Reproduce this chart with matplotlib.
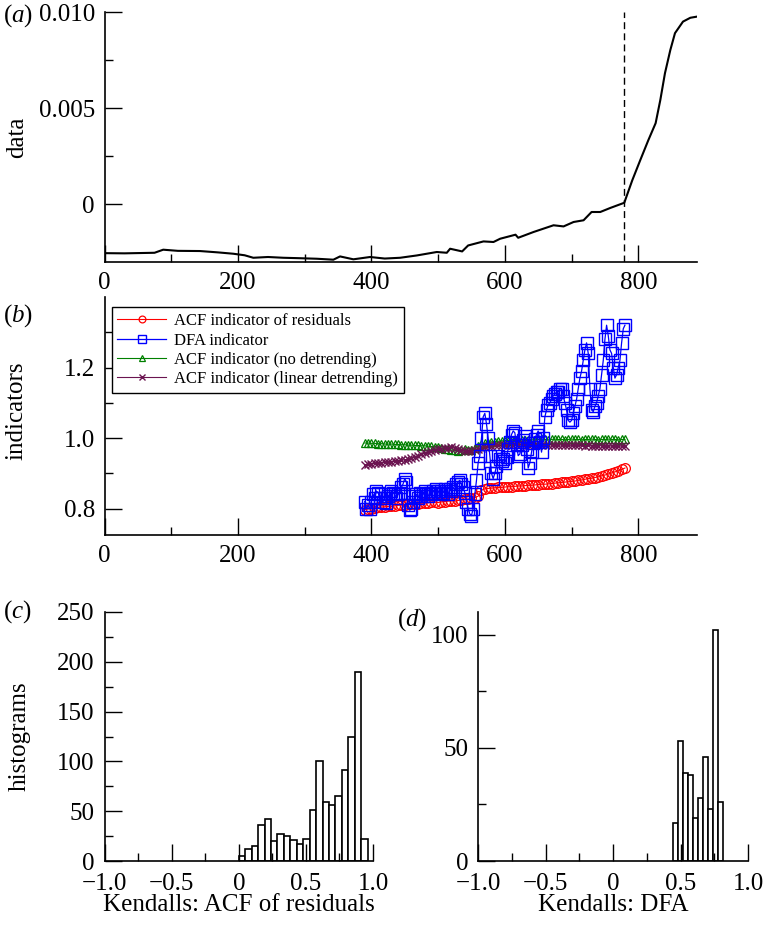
import numpy as np
import matplotlib
matplotlib.use("Agg")
import matplotlib.pyplot as plt
from matplotlib.ticker import FixedLocator

plt.rcParams['font.family'] = 'Liberation Serif'
plt.rcParams['mathtext.fontset'] = 'custom'
plt.rcParams['mathtext.rm'] = 'Liberation Serif'
plt.rcParams['mathtext.it'] = 'Liberation Serif:italic'

# (a) the time series
data_x = [0, 30, 60, 75, 88, 110, 143, 170, 193, 210, 223, 245, 268, 290, 318,
          343, 353, 373, 398, 420, 443, 468, 498, 513, 518, 536, 545, 568, 583,
          593, 616, 620, 643, 673, 688, 703, 718, 730, 743, 758, 779, 791, 803,
          815, 826, 833, 840, 848, 855, 867, 878, 888]
data_y = [-2.54, -2.55, -2.53, -2.52, -2.36, -2.42, -2.43, -2.50, -2.57, -2.65,
          -2.78, -2.74, -2.78, -2.80, -2.83, -2.88, -2.71, -2.86, -2.74, -2.82,
          -2.78, -2.66, -2.48, -2.52, -2.31, -2.45, -2.14, -1.93, -1.96, -1.79,
          -1.58, -1.74, -1.44, -1.09, -1.15, -0.92, -0.83, -0.40, -0.40, -0.19,
          0.08, 1.25, 2.30, 3.33, 4.22, 5.42, 6.82, 8.02, 8.90, 9.50, 9.70, 9.76]
data_y = [v * 1e-3 for v in data_y]
transition = 779

# (b) indicators, one value every 5 time steps from 390 to 780
ind_x = np.arange(390, 781, 5)
acf_res = [0.797, 0.799, 0.800, 0.801, 0.803, 0.804, 0.805, 0.806, 0.806, 0.808,
           0.809, 0.810, 0.811, 0.812, 0.813, 0.812, 0.814, 0.815, 0.816, 0.816,
           0.818, 0.818, 0.817, 0.819, 0.820, 0.821, 0.822, 0.821, 0.823, 0.824,
           0.826, 0.827, 0.829, 0.831, 0.835,
           0.852, 0.856, 0.857, 0.858, 0.859, 0.860, 0.860, 0.861, 0.862, 0.862,
           0.863, 0.864, 0.864, 0.865, 0.866, 0.866, 0.867, 0.868, 0.869, 0.869,
           0.870, 0.871, 0.872, 0.873, 0.874, 0.875, 0.876, 0.877, 0.878, 0.880,
           0.881, 0.883, 0.885, 0.886, 0.888, 0.890, 0.893, 0.895, 0.898, 0.901,
           0.904, 0.907, 0.911, 0.915]
acf_raw = [0.986, 0.986, 0.985, 0.985, 0.984, 0.984, 0.983, 0.983, 0.983, 0.982,
           0.982, 0.981, 0.981, 0.980, 0.980, 0.979, 0.979, 0.978, 0.978, 0.977,
           0.976, 0.975, 0.974, 0.972, 0.970, 0.968, 0.966, 0.965, 0.964, 0.966,
           0.968, 0.965, 0.967, 0.972, 0.978,
           0.982, 0.985, 0.987, 0.989, 0.990, 0.991, 0.992, 0.993, 0.993, 0.994,
           0.994, 0.994, 0.995, 0.995, 0.995, 0.995, 0.995, 0.996, 0.997, 0.996,
           0.995, 0.996, 0.997, 0.996, 0.996, 0.995, 0.996, 0.997, 0.996, 0.996,
           0.995, 0.996, 0.996, 0.997, 0.996, 0.995, 0.996, 0.996, 0.997, 0.996,
           0.996, 0.995, 0.996, 0.996]
acf_lin = [0.923, 0.925, 0.927, 0.928, 0.929, 0.930, 0.931, 0.932, 0.933, 0.934,
           0.936, 0.937, 0.938, 0.940, 0.943, 0.946, 0.950, 0.954, 0.957, 0.960,
           0.963, 0.966, 0.968, 0.970, 0.972, 0.973, 0.974, 0.972, 0.969, 0.966,
           0.963, 0.962, 0.964, 0.966, 0.968,
           0.971, 0.974, 0.976, 0.978, 0.979, 0.980, 0.980, 0.981, 0.981, 0.981,
           0.982, 0.982, 0.982, 0.981, 0.981, 0.982, 0.981, 0.981, 0.981, 0.980,
           0.981, 0.980, 0.980, 0.980, 0.980, 0.979, 0.980, 0.979, 0.979, 0.979,
           0.979, 0.978, 0.979, 0.978, 0.978, 0.978, 0.978, 0.977, 0.978, 0.977,
           0.977, 0.977, 0.977, 0.977]

# DFA indicator, one value every 2.5 time steps from 390 to 780
dfa_x = np.arange(390, 780.1, 2.5)
dfa = [0.82, 0.80, 0.81, 0.80, 0.82, 0.84, 0.83, 0.85, 0.845, 0.83, 0.84, 0.82,
       0.83, 0.815, 0.835, 0.84, 0.85, 0.845, 0.84, 0.83, 0.84, 0.845, 0.86, 0.87,
       0.885, 0.875, 0.81, 0.795, 0.80, 0.82, 0.835, 0.84, 0.83, 0.845, 0.835, 0.84,
       0.85, 0.84, 0.835, 0.845, 0.84, 0.85, 0.845, 0.855, 0.85, 0.84, 0.85, 0.845,
       0.855, 0.85, 0.84, 0.855, 0.85, 0.86, 0.855, 0.87, 0.875, 0.88, 0.87, 0.86,
       0.845, 0.82, 0.80, 0.785, 0.78, 0.80, 0.84, 0.88, 0.93, 0.95, 1.00, 1.06,
       1.07, 1.04, 1.00, 0.95, 0.90, 0.885, 0.90, 0.92, 0.95, 0.94, 0.935, 0.94,
       0.93, 0.945, 0.97, 0.99, 1.01, 1.02, 1.015, 0.98, 0.95, 0.955, 0.98, 0.995,
       1.005, 0.97, 0.915, 0.93, 0.96, 0.985, 0.997, 1.01, 1.02, 0.99, 0.96, 1.00,
       1.06, 1.08, 1.095, 1.10, 1.11, 1.12, 1.125, 1.13, 1.13, 1.14, 1.14, 1.12,
       1.10, 1.08, 1.05, 1.045, 1.05, 1.07, 1.09, 1.11, 1.14, 1.17, 1.19, 1.22,
       1.25, 1.27, 1.24, 1.14, 1.08, 1.075, 1.09, 1.10, 1.12, 1.14, 1.18, 1.22,
       1.28, 1.32, 1.29, 1.25, 1.24, 1.20, 1.17, 1.18, 1.20, 1.22, 1.27, 1.31,
       1.32]

# (c), (d) histograms of Kendall tau
hist_c_edges = np.linspace(0.0, 0.96, 21)
hist_c_counts = [5, 12, 15, 36, 42, 20, 27, 25, 21, 17, 22, 51, 100, 59, 56, 65,
                 91, 124, 190, 22]
hist_d_edges = np.linspace(0.444, 0.815, 11)
hist_d_counts = [17, 53, 39, 38, 19, 28, 46, 23, 102, 26]

W, H = 764, 926
fig = plt.figure(figsize=(W / 100, H / 100), dpi=100)

def box(l, t, r, b):
    return [l / W, 1 - b / H, (r - l) / W, (b - t) / H]

ax_a = fig.add_axes(box(104.5, 12, 697, 262))
ax_b = fig.add_axes(box(104.5, 297, 697, 535))
ax_c = fig.add_axes(box(104.5, 612, 373, 861))
ax_d = fig.add_axes(box(478, 612, 748, 861))

FS = 18

def style(ax):
    ax.spines['top'].set_visible(False)
    ax.spines['right'].set_visible(False)
    for s in ('left', 'bottom'):
        ax.spines[s].set_linewidth(1.2)
    ax.tick_params(which='both', direction='in', top=False, right=False,
                   labelsize=FS, pad=7, width=1.0)
    ax.tick_params(which='major', length=12)
    ax.tick_params(which='minor', length=6)

# (a)
ax_a.plot(data_x, data_y, color='black', lw=1.5)
ax_a.axvline(transition, color='black', lw=1.0, ls=(0, (5, 3)))
ax_a.set_xlim(0, 888)
ax_a.set_ylim(-0.0030, 0.0100)
ax_a.set_xticks([0, 200, 400, 600, 800])
ax_a.xaxis.set_minor_locator(FixedLocator([100, 300, 500, 700]))
ax_a.set_yticks([0, 0.005, 0.010])
ax_a.set_yticklabels(['0', '0.005', '0.010'])
ax_a.yaxis.set_minor_locator(FixedLocator([0.0025, 0.0075]))
style(ax_a)
ax_a.set_ylabel('data', fontsize=FS, va='center')
ax_a.yaxis.set_label_coords(-0.148, 0.5)

# (b)
ax_b.plot(ind_x, acf_res, color='red', lw=0.8, marker='o', ms=7,
          mfc='none', mew=0.9, label='ACF indicator of residuals', zorder=3)
ax_b.plot(dfa_x, dfa, color='blue', lw=0.9, marker='s', ms=8,
          mfc='none', mew=1.0, label='DFA indicator', zorder=4)
ax_b.plot(ind_x, acf_raw, color='green', lw=0.8, marker='^', ms=6,
          mfc='none', mew=0.9, label='ACF indicator (no detrending)', zorder=2)
ax_b.plot(ind_x, acf_lin, color='#6b1450', lw=0.8, marker='x', ms=6,
          mew=1.0, label='ACF indicator (linear detrending)', zorder=2)
ax_b.set_xlim(0, 888)
ax_b.set_ylim(0.725, 1.40)
ax_b.set_xticks([0, 200, 400, 600, 800])
ax_b.xaxis.set_minor_locator(FixedLocator([100, 300, 500, 700]))
ax_b.set_yticks([0.8, 1.0, 1.2])
ax_b.set_yticklabels(['0.8', '1.0', '1.2'])
ax_b.yaxis.set_minor_locator(FixedLocator([0.9, 1.1, 1.3]))
style(ax_b)
ax_b.set_ylabel('indicators', fontsize=FS, va='center')
ax_b.yaxis.set_label_coords(-0.148, 0.52)
leg = ax_b.legend(loc='upper left', bbox_to_anchor=(0.012, 0.956), fontsize=12,
                  handlelength=2.9, labelspacing=0.2, borderpad=0.35,
                  borderaxespad=0, handletextpad=0.5, fancybox=False,
                  edgecolor='black', framealpha=1, markerscale=0.7)
leg.get_frame().set_linewidth(1.0)

# (c)
ax_c.bar(hist_c_edges[:-1], hist_c_counts, width=np.diff(hist_c_edges), align='edge',
         color='white', edgecolor='black', lw=1.2)
ax_c.set_xlim(-1.0, 1.0)
ax_c.set_ylim(0, 250)
ax_c.set_xticks([-1.0, -0.5, 0, 0.5, 1.0])
ax_c.set_xticklabels(['\u22121.0', '\u22120.5', '0', '0.5', '1.0'])
ax_c.xaxis.set_minor_locator(FixedLocator([-0.75, -0.25, 0.25, 0.75]))
ax_c.set_yticks([0, 50, 100, 150, 200, 250])
ax_c.yaxis.set_minor_locator(FixedLocator([25, 75, 125, 175, 225]))
style(ax_c)
ax_c.tick_params(axis='x', pad=9)
ax_c.set_ylabel('histograms', fontsize=FS, va='center')
ax_c.yaxis.set_label_coords(-0.315, 0.5)
ax_c.set_xlabel('Kendalls: ACF of residuals', fontsize=FS, va='center')
ax_c.xaxis.set_label_coords(0.5, -0.177)

# (d)
ax_d.bar(hist_d_edges[:-1], hist_d_counts, width=np.diff(hist_d_edges), align='edge',
         color='white', edgecolor='black', lw=1.2)
ax_d.set_xlim(-1.0, 1.0)
ax_d.set_ylim(0, 110)
ax_d.set_xticks([-1.0, -0.5, 0, 0.5, 1.0])
ax_d.set_xticklabels(['\u22121.0', '\u22120.5', '0', '0.5', '1.0'])
ax_d.xaxis.set_minor_locator(FixedLocator([-0.75, -0.25, 0.25, 0.75]))
ax_d.set_yticks([0, 50, 100])
ax_d.yaxis.set_minor_locator(FixedLocator([25, 75]))
style(ax_d)
ax_d.tick_params(axis='x', pad=9)
ax_d.set_xlabel('Kendalls: DFA', fontsize=FS, va='center')
ax_d.xaxis.set_label_coords(0.5, -0.177)

# panel letters
for x, y, s in [(3, 16, 'a'), (3, 316, 'b'), (3, 612, 'c'), (397, 620, 'd')]:
    fig.text(x / W, 1 - y / H, '($%s$)' % s, fontsize=FS, ha='left', va='center')

fig.savefig('out.png', dpi=100)
